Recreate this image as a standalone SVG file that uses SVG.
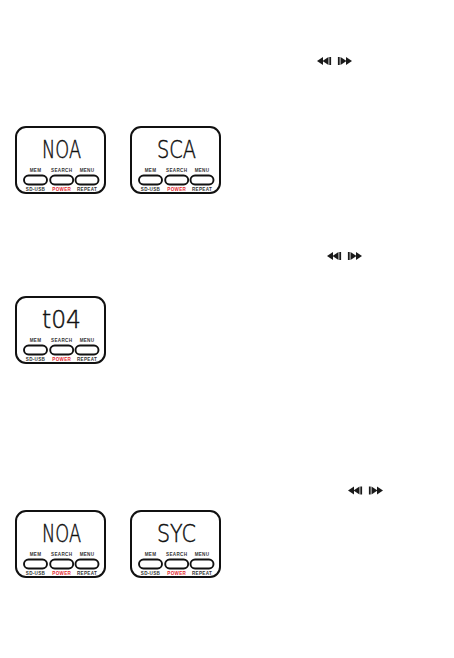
<svg xmlns="http://www.w3.org/2000/svg" xmlns:xlink="http://www.w3.org/1999/xlink" width="454" height="658" viewBox="0 0 454 658">
<style>
.frame{fill:#fff;stroke:#111;stroke-width:2}
.btn{fill:#fff;stroke:#111;stroke-width:1.9}
.lbl{font-family:"Liberation Sans",Arial,sans-serif;font-size:4.6px;font-weight:bold;fill:#333;text-anchor:middle;letter-spacing:0.3px}
.pwr{fill:#e3262d}
.lcd{font-family:"DejaVu Sans",sans-serif;font-weight:200;font-size:25px;fill:#111;stroke:#111;stroke-width:0.5;text-anchor:middle}
.ico{fill:#1a1a1a}
</style>
<defs>
<g id="panel">
<rect class="frame" x="0" y="0" width="89" height="66" rx="10"/>
<rect class="btn" x="8" y="48.5" width="23" height="9" rx="4.5"/>
<rect class="btn" x="34.2" y="48.5" width="23" height="9" rx="4.5"/>
<rect class="btn" x="59.5" y="48.5" width="23" height="9" rx="4.5"/>
<text class="lbl" x="19.5" y="45.3">MEM</text>
<text class="lbl" x="45.7" y="45.3">SEARCH</text>
<text class="lbl" x="71" y="45.3">MENU</text>
<text class="lbl" x="19.5" y="63.5">SD-USB</text>
<text class="lbl pwr" x="45.7" y="63.5">POWER</text>
<text class="lbl" x="71" y="63.5">REPEAT</text>
</g>
<g id="arrows">
<polygon class="ico" points="0,4 6,0 6,8"/>
<polygon class="ico" points="5.5,4 11.5,0 11.5,8"/>
<rect class="ico" x="12.3" y="0" width="1.8" height="8"/>
<rect class="ico" x="20.9" y="0" width="1.8" height="8"/>
<polygon class="ico" points="23.5,0 29.5,4 23.5,8"/>
<polygon class="ico" points="29,0 35,4 29,8"/>
</g>
</defs>
<rect width="454" height="658" fill="#fff"/>
<g id="icon-row1"><use xlink:href="#arrows" x="317" y="57"/></g>
<g id="icon-row2"><use xlink:href="#arrows" x="327" y="252"/></g>
<g id="icon-row3"><use xlink:href="#arrows" x="348" y="486.5"/></g>
<g id="panel-nor1">
<use xlink:href="#panel" x="16" y="127"/>
<text class="lcd" x="61.5" y="158" textLength="39" lengthAdjust="spacingAndGlyphs">NOA</text>
</g>
<g id="panel-sca">
<use xlink:href="#panel" x="131" y="127"/>
<text class="lcd" x="176.5" y="158" textLength="39" lengthAdjust="spacingAndGlyphs">SCA</text>
</g>
<g id="panel-t04">
<use xlink:href="#panel" x="16" y="297"/>
<text class="lcd" x="61.5" y="328" textLength="39" lengthAdjust="spacingAndGlyphs">t04</text>
</g>
<g id="panel-nor2">
<use xlink:href="#panel" x="16" y="511"/>
<text class="lcd" x="61.5" y="542" textLength="39" lengthAdjust="spacingAndGlyphs">NOA</text>
</g>
<g id="panel-syc">
<use xlink:href="#panel" x="131" y="511"/>
<text class="lcd" x="176.5" y="542" textLength="39" lengthAdjust="spacingAndGlyphs">SYC</text>
</g>
<g id="connectors"></g>
</svg>
